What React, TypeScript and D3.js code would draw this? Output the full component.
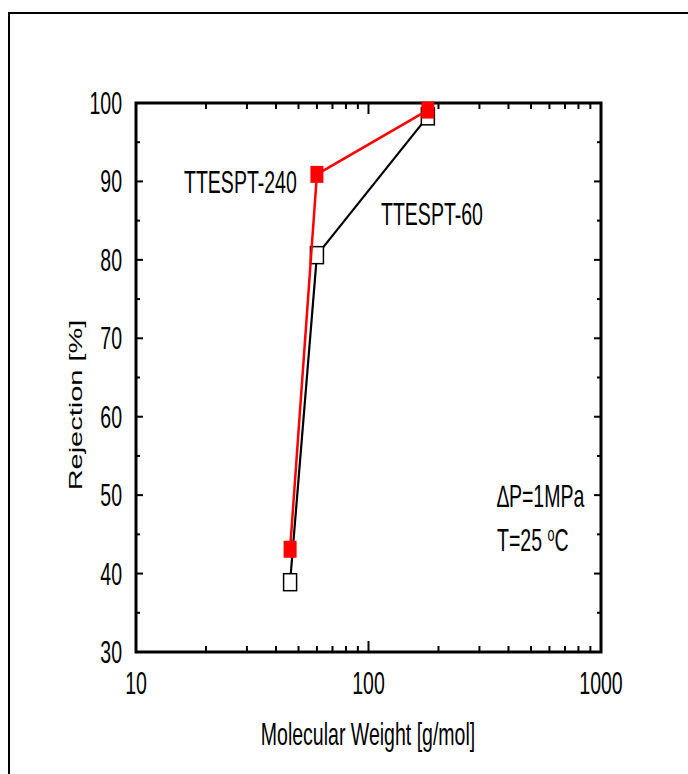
import React from "react";
import * as d3 from "d3";

// Molecular weight of the probe solutes [g/mol]
const molecularWeight = [46, 60, 180];
// Rejection [%] for each membrane
const rejection240 = [43.1, 90.9, 99.1];
const rejection60 = [38.9, 80.6, 98.3];

const yTicks = [30, 40, 50, 60, 70, 80, 90, 100];
const xTickLabels = [10, 100, 1000];

const W = 688;
const H = 774;
const M = { left: 136, right: 601, top: 103, bottom: 652 };
const FONT = "'Liberation Sans', Arial, sans-serif";
const SQ = 0.63; // horizontal condensation of the lettering
const FS = 31;

export default function App() {
  const x = d3.scaleLog().domain([10, 1000]).range([M.left, M.right]);
  const y = d3.scaleLinear().domain([30, 100]).range([M.bottom, M.top]);

  const line = d3
    .line<[number, number]>()
    .x((d) => x(d[0]))
    .y((d) => y(d[1]));

  const pts240 = molecularWeight.map((m, i) => [m, rejection240[i]] as [number, number]);
  const pts60 = molecularWeight.map((m, i) => [m, rejection60[i]] as [number, number]);

  // minor ticks of the log axis
  const xMinor: number[] = [];
  for (const dec of [10, 100]) for (let k = 2; k <= 9; k++) xMinor.push(dec * k);
  const yMinor = d3.range(35, 100, 10);

  const mw = 13;
  const mh = 17;

  const condensed = (
    txt: string,
    cx: number,
    baseline: number,
    size: number,
    anchor: "start" | "middle" | "end" = "start"
  ) => (
    <text
      transform={`translate(${cx},${baseline}) scale(${SQ},1)`}
      fontFamily={FONT}
      fontSize={size}
      textAnchor={anchor}
      fill="#000"
    >
      {txt}
    </text>
  );

  return (
    <svg
      width={W}
      height={H}
      style={{ position: "absolute", left: 0, top: 0, background: "#fff" }}
    >
      {/* page frame */}
      <rect x={9} y={13} width={W} height={H} fill="none" stroke="#000" strokeWidth={2} />

      {/* ticks */}
      <g stroke="#000" strokeWidth={2}>
        {xTickLabels.map((v) => (
          <g key={"xM" + v}>
            <line x1={x(v)} x2={x(v)} y1={M.bottom} y2={M.bottom - 11} />
            <line x1={x(v)} x2={x(v)} y1={M.top} y2={M.top + 11} />
          </g>
        ))}
        {xMinor.map((v) => (
          <g key={"xm" + v}>
            <line x1={x(v)} x2={x(v)} y1={M.bottom} y2={M.bottom - 6} />
            <line x1={x(v)} x2={x(v)} y1={M.top} y2={M.top + 6} />
          </g>
        ))}
        {yTicks.map((v) => (
          <g key={"yM" + v}>
            <line x1={M.left} x2={M.left + 7} y1={y(v)} y2={y(v)} />
            <line x1={M.right} x2={M.right - 7} y1={y(v)} y2={y(v)} />
          </g>
        ))}
        {yMinor.map((v) => (
          <g key={"ym" + v}>
            <line x1={M.left} x2={M.left + 4} y1={y(v)} y2={y(v)} />
            <line x1={M.right} x2={M.right - 4} y1={y(v)} y2={y(v)} />
          </g>
        ))}
      </g>

      {/* plot frame */}
      <rect
        x={M.left}
        y={M.top}
        width={M.right - M.left}
        height={M.bottom - M.top}
        fill="none"
        stroke="#000"
        strokeWidth={3}
      />

      {/* tick labels */}
      {yTicks.map((v) => (
        <g key={"yl" + v}>{condensed(String(v), 122, y(v) + 11, FS, "end")}</g>
      ))}
      {xTickLabels.map((v) => (
        <g key={"xl" + v}>{condensed(String(v), x(v), 694, FS, "middle")}</g>
      ))}

      {/* axis titles */}
      {condensed("Molecular Weight [g/mol]", 368, 745, FS, "middle")}
      <text
        transform={`translate(82,405) scale(${SQ},1) rotate(-90)`}
        fontFamily={FONT}
        fontSize={29}
        textAnchor="middle"
        fill="#000"
      >
        Rejection [%]
      </text>

      {/* TTESPT-60 */}
      <path d={line(pts60) ?? ""} fill="none" stroke="#000" strokeWidth={2.2} />
      {pts60.map((p, i) => (
        <rect
          key={"b" + i}
          x={x(p[0]) - mw / 2}
          y={y(p[1]) - mh / 2}
          width={mw}
          height={mh}
          fill="#fff"
          stroke="#000"
          strokeWidth={1.5}
        />
      ))}

      {/* TTESPT-240 */}
      <path d={line(pts240) ?? ""} fill="none" stroke="#f00" strokeWidth={2.5} />
      {pts240.map((p, i) => (
        <rect
          key={"r" + i}
          x={x(p[0]) - mw / 2}
          y={y(p[1]) - mh / 2}
          width={mw}
          height={mh}
          fill="#f00"
        />
      ))}

      {/* annotations */}
      {condensed("TTESPT-240", 184, 193, FS)}
      {condensed("TTESPT-60", 381, 225, FS)}
      {condensed("\u2206P=1MPa", 497, 507, FS)}
      <text
        transform={`translate(497,551) scale(${SQ},1)`}
        fontFamily={FONT}
        fontSize={FS}
        fill="#000"
      >
        T=25 <tspan fontSize={20} dy={-10}>o</tspan>
        <tspan dy={10}>C</tspan>
      </text>
    </svg>
  );
}
